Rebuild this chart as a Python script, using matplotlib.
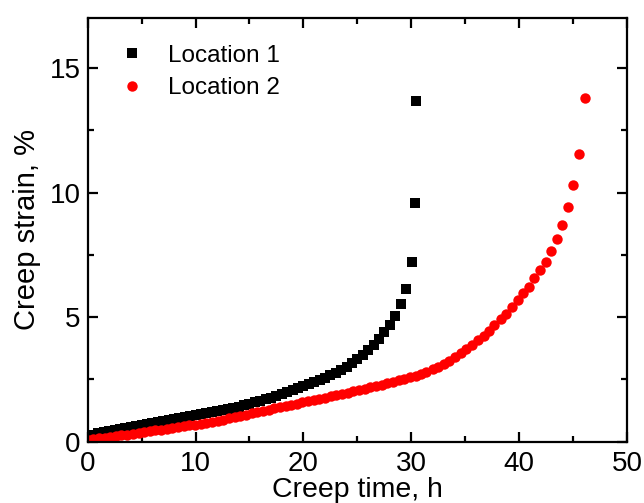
import matplotlib
matplotlib.use("Agg")
import matplotlib.pyplot as plt
from matplotlib.ticker import MultipleLocator

# Location 1 (black squares)
time_loc1 = [0.0, 0.5, 1.0, 1.5, 2.0, 2.5, 3.0, 3.5, 4.0, 4.5,
             5.0, 5.5, 6.0, 6.5, 7.0, 7.5, 8.0, 8.5, 9.0, 9.5,
             10.0, 10.5, 11.0, 11.5, 12.0, 12.5, 13.0, 13.5, 14.0, 14.5,
             15.0, 15.5, 16.0, 16.5, 17.0, 17.5, 18.0, 18.5, 19.0, 19.5,
             20.0, 20.5, 21.0, 21.5, 22.0, 22.5, 23.0, 23.5, 24.0, 24.5,
             25.0, 25.5, 26.0, 26.5, 27.0, 27.5, 28.0, 28.5, 29.0, 29.5,
             30.05, 30.35, 30.40]
strain_loc1 = [0.20, 0.27, 0.33, 0.38, 0.43, 0.47, 0.51, 0.55, 0.59, 0.63,
               0.67, 0.71, 0.74, 0.78, 0.82, 0.86, 0.90, 0.94, 0.98, 1.02,
               1.06, 1.10, 1.14, 1.18, 1.23, 1.27, 1.32, 1.36, 1.41, 1.46,
               1.52, 1.58, 1.64, 1.70, 1.77, 1.84, 1.91, 1.98, 2.06, 2.14,
               2.22, 2.30, 2.39, 2.48, 2.57, 2.66, 2.76, 2.88, 3.01, 3.15,
               3.31, 3.48, 3.67, 3.88, 4.12, 4.39, 4.70, 5.05, 5.54, 6.14,
               7.20, 9.59, 13.68]

# Location 2 (red circles)
time_loc2 = [0.0, 0.52, 1.05, 1.57, 2.10, 2.62, 3.14, 3.67, 4.19, 4.72,
             5.24, 5.76, 6.29, 6.81, 7.34, 7.86, 8.38, 8.91, 9.43, 9.96,
             10.48, 11.00, 11.53, 12.05, 12.58, 13.10, 13.62, 14.15, 14.67, 15.20,
             15.72, 16.24, 16.77, 17.29, 17.82, 18.34, 18.86, 19.39, 19.91, 20.44,
             20.96, 21.48, 22.01, 22.53, 23.06, 23.58, 24.10, 24.63, 25.15, 25.68,
             26.20, 26.72, 27.25, 27.77, 28.30, 28.82, 29.34, 29.87, 30.40, 30.90,
             31.40, 31.96, 32.46, 33.00, 33.50, 34.04, 34.57, 35.10, 35.60, 36.15,
             36.70, 37.20, 37.70, 38.26, 38.77, 39.30, 39.84, 40.35, 40.88, 41.40,
             41.92, 42.46, 42.93, 43.47, 44.00, 44.48, 45.00, 45.52, 46.06]
strain_loc2 = [0.05, 0.09, 0.13, 0.16, 0.19, 0.22, 0.25, 0.28, 0.31, 0.34,
               0.38, 0.41, 0.45, 0.48, 0.51, 0.54, 0.58, 0.61, 0.65, 0.68,
               0.72, 0.75, 0.79, 0.83, 0.88, 0.93, 0.98, 1.03, 1.08, 1.13,
               1.18, 1.23, 1.28, 1.33, 1.38, 1.43, 1.48, 1.53, 1.58, 1.63,
               1.67, 1.72, 1.77, 1.82, 1.87, 1.92, 1.97, 2.02, 2.07, 2.12,
               2.18, 2.23, 2.29, 2.35, 2.41, 2.47, 2.53, 2.59, 2.65, 2.72,
               2.80, 2.90, 3.00, 3.12, 3.24, 3.39, 3.55, 3.70, 3.88, 4.06,
               4.25, 4.46, 4.69, 4.91, 5.14, 5.40, 5.67, 5.95, 6.22, 6.56,
               6.88, 7.22, 7.64, 8.15, 8.70, 9.42, 10.29, 11.53, 13.81]

plt.rcParams['font.family'] = ['Liberation Sans', 'DejaVu Sans']

fig = plt.figure(figsize=(6.44, 5.03), dpi=100)
ax = fig.add_axes([0.136, 0.122, 0.838, 0.842])

ax.plot(time_loc1, strain_loc1, 's', color='black', markersize=6.8,
        markeredgewidth=0, label='Location 1')
ax.plot(time_loc2, strain_loc2, 'o', color='red', markersize=7.5,
        markeredgewidth=0, label='Location 2')

ax.set_xlim(0, 50)
ax.set_ylim(0, 17)
ax.xaxis.set_major_locator(MultipleLocator(10))
ax.xaxis.set_minor_locator(MultipleLocator(5))
ax.yaxis.set_major_locator(MultipleLocator(5))
ax.yaxis.set_minor_locator(MultipleLocator(2.5))

ax.tick_params(which='both', direction='in', top=True, right=True, width=1.6)
ax.tick_params(which='major', length=7, labelsize=20)
ax.tick_params(axis='x', which='major', pad=7)
ax.tick_params(axis='y', which='major', pad=5)
ax.tick_params(which='minor', length=4)
for sp in ax.spines.values():
    sp.set_linewidth(1.6)

ax.set_xlabel('Creep time, h', fontsize=20.5, labelpad=0)
ax.set_ylabel('Creep strain, %', fontsize=21, labelpad=6)

ax.legend(loc='upper left', frameon=False, fontsize=17.5, handletextpad=0.9,
          borderaxespad=0.6, labelspacing=0.45, markerscale=1.0,
          handlelength=1.2, bbox_to_anchor=(0.01, 0.995))

fig.savefig('out.png', dpi=100)
